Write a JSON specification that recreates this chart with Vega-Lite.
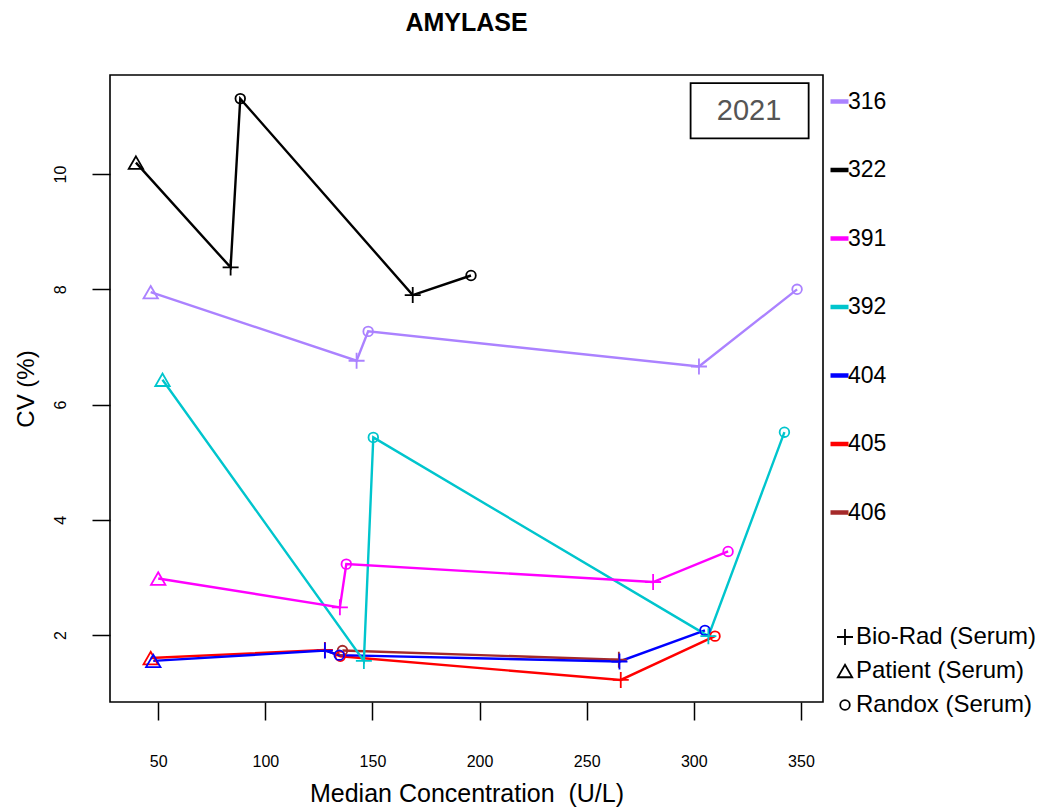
{
  "$schema": "https://vega.github.io/schema/vega-lite/v6.json",
  "width": 713,
  "height": 627,
  "autosize": "none",
  "padding": {"left": 110, "top": 75, "right": 224, "bottom": 106},
  "background": "white",
  "title": {"text": "AMYLASE", "fontSize": 25, "fontWeight": "bold", "font": "Liberation Sans", "color": "black", "anchor": "middle", "frame": "group", "offset": 39},
  "config": {
    "font": "Liberation Sans",
    "view": {"stroke": "black", "strokeWidth": 1.6},
    "axis": {"grid": false, "domain": false, "tickColor": "black", "tickWidth": 1.5, "tickSize": 18, "labelColor": "black", "titleColor": "black", "labelFont": "Liberation Sans", "titleFont": "Liberation Sans", "titleFontWeight": "normal"}
  },
  "datasets": {
    "cv": [
      {"lab": "406", "material": "Randox (Serum)", "conc": 136.0, "cv": 1.73},
      {"lab": "406", "material": "Bio-Rad (Serum)", "conc": 265.0, "cv": 1.57},
      {"lab": "405", "material": "Patient (Serum)", "conc": 46.5, "cv": 1.6},
      {"lab": "405", "material": "Bio-Rad (Serum)", "conc": 127.8, "cv": 1.74},
      {"lab": "405", "material": "Randox (Serum)", "conc": 135.0, "cv": 1.63},
      {"lab": "405", "material": "Bio-Rad (Serum)", "conc": 265.9, "cv": 1.22},
      {"lab": "405", "material": "Randox (Serum)", "conc": 309.9, "cv": 1.98},
      {"lab": "404", "material": "Patient (Serum)", "conc": 47.7, "cv": 1.55},
      {"lab": "404", "material": "Bio-Rad (Serum)", "conc": 127.8, "cv": 1.73},
      {"lab": "404", "material": "Randox (Serum)", "conc": 134.5, "cv": 1.65},
      {"lab": "404", "material": "Bio-Rad (Serum)", "conc": 265.3, "cv": 1.54},
      {"lab": "404", "material": "Randox (Serum)", "conc": 305.2, "cv": 2.08},
      {"lab": "392", "material": "Patient (Serum)", "conc": 52.0, "cv": 6.43},
      {"lab": "392", "material": "Bio-Rad (Serum)", "conc": 146.0, "cv": 1.55},
      {"lab": "392", "material": "Randox (Serum)", "conc": 150.4, "cv": 5.43},
      {"lab": "392", "material": "Bio-Rad (Serum)", "conc": 306.8, "cv": 1.98},
      {"lab": "392", "material": "Randox (Serum)", "conc": 342.3, "cv": 5.52},
      {"lab": "391", "material": "Patient (Serum)", "conc": 50.0, "cv": 2.98},
      {"lab": "391", "material": "Bio-Rad (Serum)", "conc": 134.8, "cv": 2.48},
      {"lab": "391", "material": "Randox (Serum)", "conc": 137.8, "cv": 3.23},
      {"lab": "391", "material": "Bio-Rad (Serum)", "conc": 281.0, "cv": 2.92},
      {"lab": "391", "material": "Randox (Serum)", "conc": 316.0, "cv": 3.45},
      {"lab": "322", "material": "Patient (Serum)", "conc": 39.6, "cv": 10.2},
      {"lab": "322", "material": "Bio-Rad (Serum)", "conc": 83.8, "cv": 8.38},
      {"lab": "322", "material": "Randox (Serum)", "conc": 88.3, "cv": 11.31},
      {"lab": "322", "material": "Bio-Rad (Serum)", "conc": 168.8, "cv": 7.9},
      {"lab": "322", "material": "Randox (Serum)", "conc": 196.0, "cv": 8.24},
      {"lab": "316", "material": "Patient (Serum)", "conc": 46.5, "cv": 7.95},
      {"lab": "316", "material": "Bio-Rad (Serum)", "conc": 142.6, "cv": 6.76},
      {"lab": "316", "material": "Randox (Serum)", "conc": 148.0, "cv": 7.27},
      {"lab": "316", "material": "Bio-Rad (Serum)", "conc": 302.4, "cv": 6.66},
      {"lab": "316", "material": "Randox (Serum)", "conc": 348.2, "cv": 8.0}
    ],
    "box": [
      {"label": "2021", "x1": 298.5, "x2": 353.6, "y1": 11.58, "y2": 10.62, "xm": 325.8, "ym": 11.1}
    ]
  },
  "layer": [
    {
      "data": {"name": "cv"},
      "mark": {"type": "line", "strokeWidth": 2.4, "clip": true},
      "encoding": {
        "x": {"field": "conc", "type": "quantitative", "scale": {"domain": [27.5, 360.3], "nice": false, "zero": false},
          "axis": {"values": [50, 100, 150, 200, 250, 300, 350], "format": "d", "labelFontSize": 16, "labelPadding": 33, "title": "Median Concentration \u00a0(U/L)", "titleFontSize": 25, "titlePadding": 12}},
        "y": {"field": "cv", "type": "quantitative", "scale": {"domain": [0.837, 11.72], "nice": false, "zero": false},
          "axis": {"values": [2, 4, 6, 8, 10], "format": "d", "labelFontSize": 16, "labelAngle": 270, "labelAlign": "center", "labelBaseline": "bottom", "labelPadding": 24, "title": "CV (%)", "titleFontSize": 24, "titlePadding": 14}},
        "color": {"field": "lab", "type": "nominal",
          "scale": {"domain": ["316", "322", "391", "392", "404", "405", "406"], "range": ["#AB82FF", "#000000", "#FF00FF", "#00C5CD", "#0000FF", "#FF0000", "#A52A2A"]},
          "legend": {"title": null, "orient": "none", "legendX": 718, "legendY": 15, "symbolType": "stroke", "symbolSize": 324, "symbolStrokeWidth": 4.5, "labelFontSize": 23, "labelColor": "black", "labelOffset": -3, "rowPadding": 44.5, "padding": 0, "labelFont": "Liberation Sans"}}
      }
    },
    {
      "data": {"name": "cv"},
      "mark": {"type": "point", "filled": false, "strokeWidth": 1.8, "size": 256, "opacity": 1, "clip": true},
      "encoding": {
        "x": {"field": "conc", "type": "quantitative"},
        "y": {"field": "cv", "type": "quantitative"},
        "color": {"field": "lab", "type": "nominal"},
        "shape": {"field": "material", "type": "nominal",
          "scale": {"domain": ["Bio-Rad (Serum)", "Patient (Serum)", "Randox (Serum)"], "range": ["M-1,0H1M0,-1V1", "M0,-0.78L0.9,0.78L-0.9,0.78Z", "M0.6,0A0.6,0.6 0 1,1 -0.6,0A0.6,0.6 0 1,1 0.6,0"]},
          "legend": {"title": null, "orient": "none", "legendX": 723, "legendY": 550, "symbolSize": 256, "symbolStrokeColor": "black", "symbolFillColor": "transparent", "symbolStrokeWidth": 1.8, "labelFontSize": 24, "labelColor": "black", "labelOffset": -1, "labelLimit": 0, "rowPadding": 10, "padding": 0, "labelFont": "Liberation Sans"}}
      }
    },
    {
      "data": {"name": "box"},
      "mark": {"type": "rect", "fill": "white", "stroke": "black", "strokeWidth": 1.8},
      "encoding": {
        "x": {"field": "x1", "type": "quantitative"},
        "x2": {"field": "x2"},
        "y": {"field": "y1", "type": "quantitative"},
        "y2": {"field": "y2"}
      }
    },
    {
      "data": {"name": "box"},
      "mark": {"type": "text", "fontSize": 29, "color": "#555555", "align": "center", "baseline": "middle", "font": "Liberation Sans"},
      "encoding": {
        "x": {"field": "xm", "type": "quantitative"},
        "y": {"field": "ym", "type": "quantitative"},
        "text": {"field": "label"}
      }
    }
  ]
}
